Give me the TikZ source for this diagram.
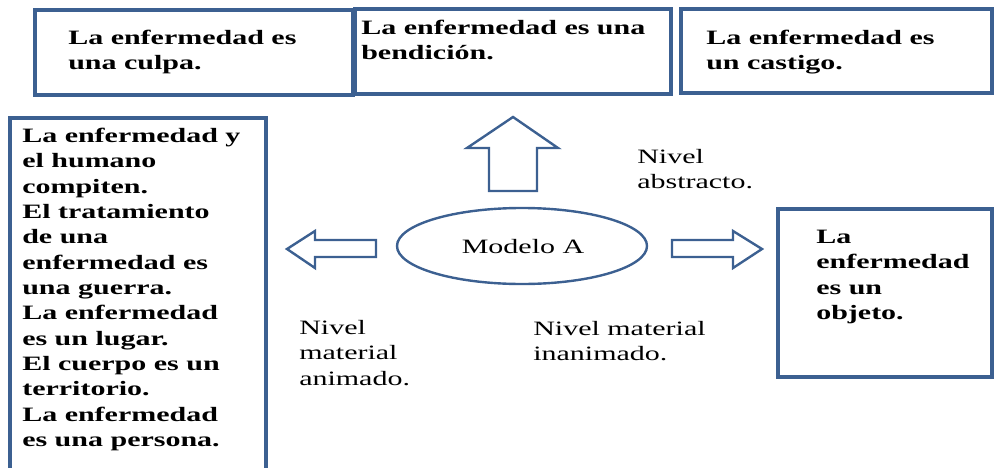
\documentclass[tikz,border=0pt]{standalone}
\usepackage{fontspec}
\setmainfont[FakeStretch=1.47]{Liberation Serif}
\definecolor{frame}{RGB}{60,96,145}
\begin{document}
\begin{tikzpicture}[x=0.75pt,y=-0.75pt,
  boxline/.style={draw=frame,line width=2.3pt},
  shapeline/.style={draw=frame,line width=1.8pt,line join=miter},
  btxt/.style={anchor=north west,inner sep=0pt,align=left,font=\fontsize{15.3}{19}\selectfont\bfseries},
  rtxt/.style={anchor=north west,inner sep=0pt,align=left,font=\fontsize{15.3}{19}\selectfont}]
\useasboundingbox (0,0) rectangle (994,467);
% boxes
\draw[boxline] (35,10) rectangle (353,95);
\draw[boxline] (355,9) rectangle (671,94);
\draw[boxline] (681,9) rectangle (992,93);
\draw[boxline] (10,480) -- (10,118) -- (266,118) -- (266,480);
\draw[boxline] (778,209) rectangle (992,377);
% texts in boxes
\node[btxt] (t1) at (68,30) {La enfermedad es\\una culpa.};
\node[btxt] (t2) at (361,20) {La enfermedad es una\\bendición.};
\node[btxt] (t3) at (706,30) {La enfermedad es\\un castigo.};
\node[btxt] (t4) at (22,128) {La enfermedad y\\el humano\\compiten.\\El tratamiento\\de una\\enfermedad es\\una guerra.\\La enfermedad\\es un lugar.\\El cuerpo es un\\territorio.\\La enfermedad\\es una persona.};
\node[btxt] (t5) at (816,230) {La\\enfermedad\\es un\\objeto.};
% ellipse
\draw[shapeline] (522,246) ellipse [x radius=125, y radius=38];
\node[rtxt,anchor=center] (m) at (523,247) {Modelo A};
% block arrows
\draw[shapeline] (513,117) -- (558,148) -- (537,148) -- (537,191) -- (489,191) -- (489,148) -- (467,148) -- cycle;
\draw[shapeline] (287,249) -- (315,231) -- (315,240) -- (376,240) -- (376,257) -- (315,257) -- (315,268) -- cycle;
\draw[shapeline] (762,249) -- (733,231) -- (733,240) -- (672,240) -- (672,257) -- (733,257) -- (733,268) -- cycle;
% level labels
\node[rtxt] (na) at (637,149) {Nivel\\abstracto.};
\node[rtxt] (nm) at (299,320) {Nivel\\material\\animado.};
\node[rtxt] (ni) at (533,321) {Nivel material\\inanimado.};
\end{tikzpicture}
\end{document}
